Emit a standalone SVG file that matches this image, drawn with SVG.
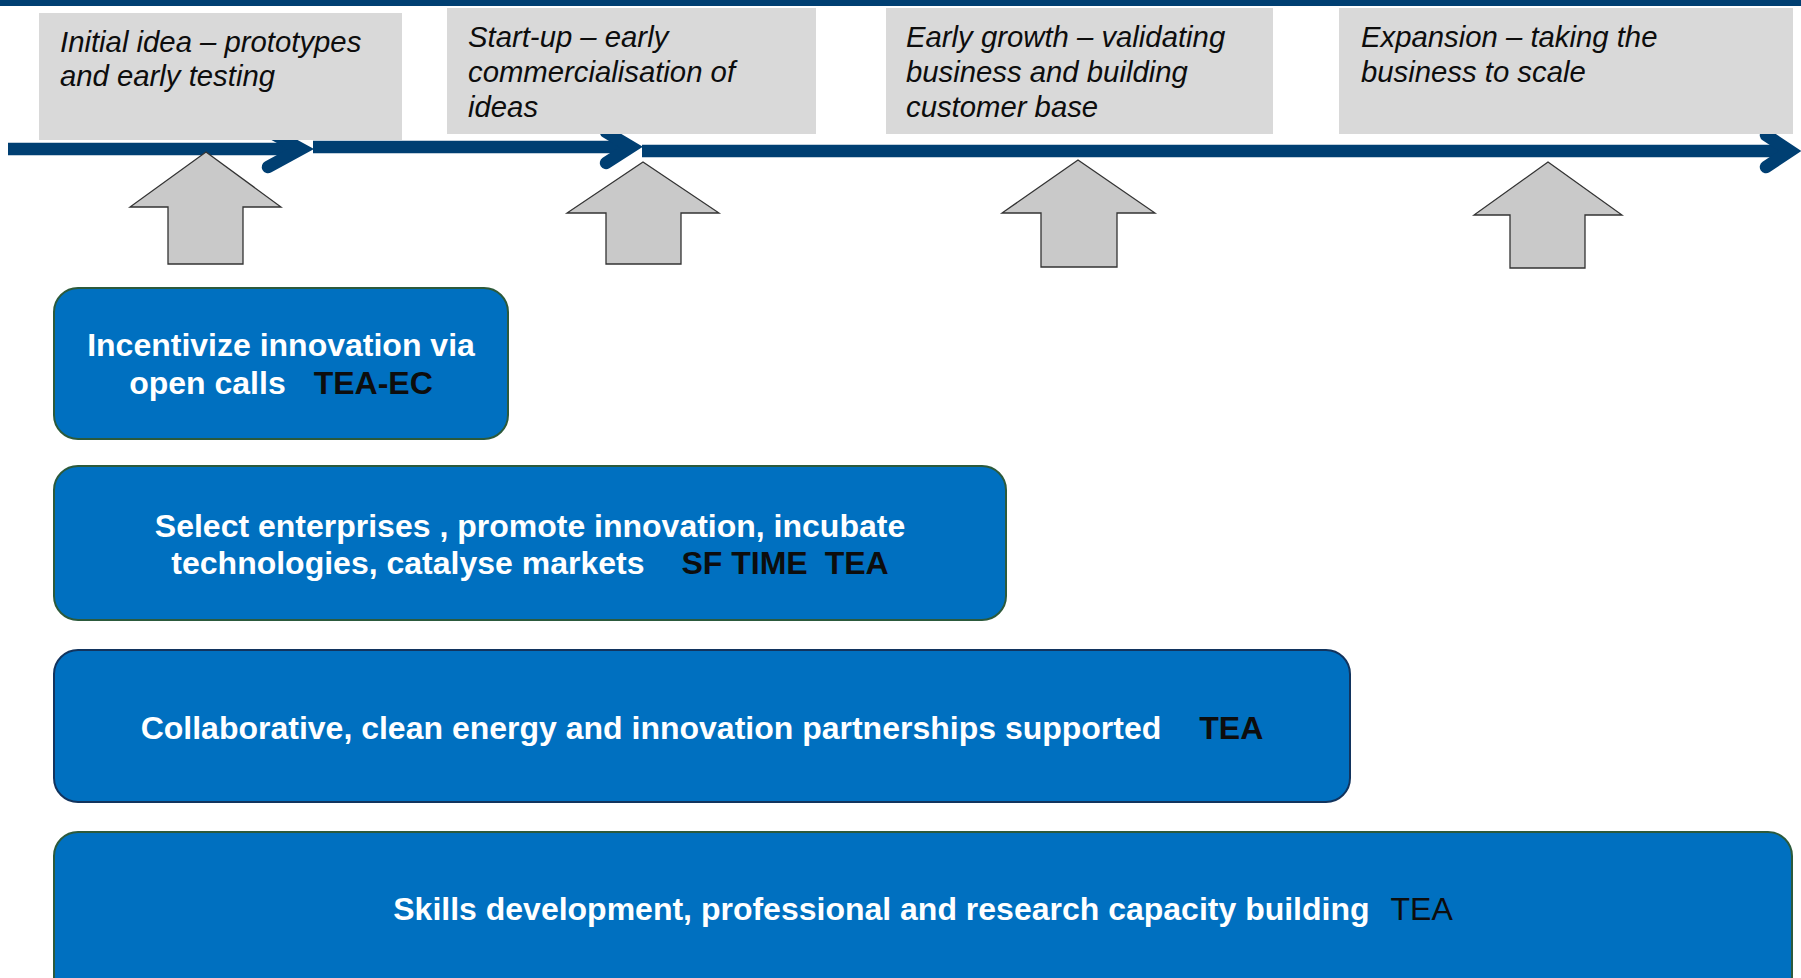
<svg xmlns="http://www.w3.org/2000/svg" width="1801" height="978" viewBox="0 0 1801 978">
<style>
.stage{fill:#d9d9d9}
.stxt{font-family:"Liberation Sans",Arial,sans-serif;font-style:italic;font-size:29.3px;fill:#0d0d0d}
.up{fill:#c9c9c9;stroke:#333333;stroke-width:1.3}
.blk{fill:#0070c0;stroke-width:2}
.btxt{font-family:"Liberation Sans",Arial,sans-serif;font-weight:bold;font-size:32px;fill:#ffffff;text-anchor:middle}
.tag{fill:#0d0d0d}
.shaft{stroke:#003f72;stroke-width:12.5;fill:none}
.chev{stroke:#003f72;stroke-width:12.5;fill:none;stroke-linecap:round;stroke-linejoin:miter}
</style>
<rect x="0" y="0" width="1801" height="978" fill="#ffffff"/>
<rect x="0" y="0" width="1801" height="6" fill="#003f72"/>

<g id="connectors">
<line class="shaft" x1="8" y1="149" x2="301" y2="149"/>
<polyline class="chev" points="268,131 301,149 268,167"/>
<line class="shaft" x1="313" y1="147" x2="631" y2="147"/>
<polyline class="chev" points="606,132 631,147 606,163"/>
<line class="shaft" x1="642" y1="151" x2="1790" y2="151"/>
<polyline class="chev" points="1766,135 1790,151 1766,167"/>
</g>

<g id="stage1">
<rect class="stage" x="39" y="13" width="363" height="127"/>
<text class="stxt" x="60" y="52">Initial idea – prototypes</text>
<text class="stxt" x="60" y="86">and early testing</text>
</g>
<g id="stage2">
<rect class="stage" x="447" y="8" width="369" height="126"/>
<text class="stxt" x="468" y="47">Start-up – early</text>
<text class="stxt" x="468" y="82">commercialisation of</text>
<text class="stxt" x="468" y="117">ideas</text>
</g>
<g id="stage3">
<rect class="stage" x="886" y="8" width="387" height="126"/>
<text class="stxt" x="906" y="47">Early growth – validating</text>
<text class="stxt" x="906" y="82">business and building</text>
<text class="stxt" x="906" y="117">customer base</text>
</g>
<g id="stage4">
<rect class="stage" x="1339" y="8" width="454" height="126"/>
<text class="stxt" x="1361" y="47">Expansion – taking the</text>
<text class="stxt" x="1361" y="82">business to scale</text>
</g>

<g id="arrow1"><polygon class="up" points="206,152 281,207 243,207 243,264 168,264 168,207 130,207"/></g>
<g id="arrow2"><polygon class="up" points="643,162 719,213 681,213 681,264 606,264 606,213 567,213"/></g>
<g id="arrow3"><polygon class="up" points="1078,160 1155,213 1117,213 1117,267 1041,267 1041,213 1002,213"/></g>
<g id="arrow4"><polygon class="up" points="1548,162 1622,215 1585,215 1585,268 1510,268 1510,215 1474,215"/></g>

<g id="box1">
<rect class="blk" x="54" y="288" width="454" height="151" rx="24" stroke="#2c5a3c"/>
<text class="btxt" x="281" y="356">Incentivize innovation via</text>
<text class="btxt" x="281" y="394">open calls<tspan class="tag" dx="28">TEA-EC</tspan></text>
</g>
<g id="box2">
<rect class="blk" x="54" y="466" width="952" height="154" rx="24" stroke="#2c5a3c"/>
<text class="btxt" x="530" y="537">Select enterprises , promote innovation, incubate</text>
<text class="btxt" x="530" y="574">technologies, catalyse markets<tspan class="tag" dx="37">SF TIME</tspan><tspan class="tag" dx="17">TEA</tspan></text>
</g>
<g id="box3">
<rect class="blk" x="54" y="650" width="1296" height="152" rx="24" stroke="#12345e"/>
<text class="btxt" x="702" y="739">Collaborative, clean energy and innovation partnerships supported<tspan class="tag" dx="38">TEA</tspan></text>
</g>
<g id="box4">
<rect class="blk" x="54" y="832" width="1738" height="180" rx="24" stroke="#2c5a3c"/>
<text class="btxt" x="923" y="920">Skills development, professional and research capacity building<tspan class="tag" dx="21" font-weight="normal">TEA</tspan></text>
</g>
</svg>
